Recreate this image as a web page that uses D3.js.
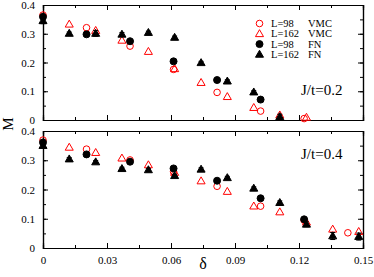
<!DOCTYPE html>
<html>
<head>
<meta charset="utf-8">
<script src="https://cdn.jsdelivr.net/npm/d3@7"></script>
<style>
  body { margin: 0; background: #fff; }
  svg { display: block; font-family: "Liberation Serif", "DejaVu Serif", serif; }
</style>
</head>
<body>
<div id="chart"></div>
<script>
// J/t = 0.2 (upper panel)
const topVmc98D = [0, 0.0204, 0.0408, 0.0612, 0.0816, 0.102, 0.1224];
const topVmc98M = [0.365, 0.321, 0.257, 0.176, 0.096, 0.031, 0.005];
const topVmc162D = [0.0123, 0.0247, 0.037, 0.0494, 0.0617, 0.0741, 0.0864, 0.0988, 0.111, 0.1235];
const topVmc162M = [0.333, 0.311, 0.277, 0.238, 0.178, 0.13, 0.081, 0.043, 0.017, 0.009];
const topFn98D = [0, 0.0204, 0.0408, 0.0612, 0.0816, 0.102];
const topFn98M = [0.359, 0.298, 0.274, 0.204, 0.139, 0.071];
const topFn162D = [0, 0.0123, 0.0247, 0.037, 0.0494, 0.0617, 0.0741, 0.0864, 0.0988, 0.111];
const topFn162M = [0.345, 0.301, 0.301, 0.298, 0.304, 0.287, 0.199, 0.135, 0.097, 0.011];
const topFn162E = [0.01, 0.005, 0.01, 0.006, 0.005, 0.005, 0.005, 0.005, 0.005, 0.009];

// J/t = 0.4 (lower panel)
const botVmc98D = [0, 0.0204, 0.0408, 0.0612, 0.0816, 0.102, 0.1224, 0.1429];
const botVmc98M = [0.369, 0.338, 0.301, 0.261, 0.211, 0.143, 0.095, 0.052];
const botVmc162D = [0.0123, 0.0247, 0.037, 0.0494, 0.0617, 0.0741, 0.0864, 0.0988, 0.111, 0.1235, 0.1358, 0.148];
const botVmc162M = [0.344, 0.326, 0.307, 0.284, 0.258, 0.229, 0.193, 0.143, 0.123, 0.088, 0.064, 0.056];
const botFn98D = [0, 0.0204, 0.0408, 0.0612, 0.0816, 0.102, 0.1224];
const botFn98M = [0.361, 0.32, 0.295, 0.272, 0.23, 0.17, 0.098];
const botFn162D = [0, 0.0123, 0.0247, 0.037, 0.0494, 0.0617, 0.0741, 0.0864, 0.0988, 0.111, 0.1235, 0.1358, 0.148];
const botFn162M = [0.35, 0.304, 0.294, 0.271, 0.267, 0.247, 0.269, 0.24, 0.204, 0.155, 0.081, 0.041, 0.039];
const botFn162E = [0.008, 0.005, 0.005, 0.005, 0.005, 0.005, 0.005, 0.005, 0.005, 0.006, 0.008, 0.012, 0.012];

const xTicks = [0, 0.03, 0.06, 0.09, 0.12, 0.15];
const xTickLabels = ["0", "0.03", "0.06", "0.09", "0.12", "0.15"];
const yTicks = [0, 0.1, 0.2, 0.3, 0.4];
const yTickLabels = ["0", "0.1", "0.2", "0.3", "0.4"];
const legendLabels = ["L=98", "L=162", "L=98", "L=162"];
const legendMethods = ["VMC", "VMC", "FN", "FN"];

const W = 374, H = 277;
const X0 = 43, X1 = 363;

const svg = d3.select("#chart").append("svg")
  .attr("width", W).attr("height", H);

const x = d3.scaleLinear().domain([0, 0.15]).range([X0, X1]);

const zip = (ds, ms, es) => ds.map((d, i) => ({ d, m: ms[i], e: es ? es[i] : 0 }));

const triPath = d3.symbol().type(d3.symbolTriangle).size(28);

function panel(y0, y1, series, label, showX) {
  const y = d3.scaleLinear().domain([0, 0.4]).range([y1, y0]);
  const g = svg.append("g");

  // Axes on all four sides, ticks inward
  const minorX = d3.range(0, 0.1501, 0.015);
  const minorY = d3.range(0, 0.401, 0.05);

  g.append("g").attr("transform", `translate(0,${y1})`)
    .call(d3.axisBottom(x).tickValues(minorX).tickSize(-3).tickFormat(""));
  g.append("g").attr("transform", `translate(0,${y1})`)
    .call(d3.axisBottom(x).tickValues(xTicks).tickSize(-5).tickPadding(8)
      .tickFormat((d, i) => showX ? xTickLabels[i] : ""));
  g.append("g").attr("transform", `translate(0,${y0})`)
    .call(d3.axisTop(x).tickValues(minorX).tickSize(-3).tickFormat(""));
  g.append("g").attr("transform", `translate(0,${y0})`)
    .call(d3.axisTop(x).tickValues(xTicks).tickSize(-5).tickFormat(""));

  g.append("g").attr("transform", `translate(${X0},0)`)
    .call(d3.axisLeft(y).tickValues(minorY).tickSize(-3).tickFormat(""));
  g.append("g").attr("transform", `translate(${X0},0)`)
    .call(d3.axisLeft(y).tickValues(yTicks).tickSize(-5).tickPadding(8)
      .tickFormat((d, i) => yTickLabels[i]));
  g.append("g").attr("transform", `translate(${X1},0)`)
    .call(d3.axisRight(y).tickValues(minorY).tickSize(-3).tickFormat(""));
  g.append("g").attr("transform", `translate(${X1},0)`)
    .call(d3.axisRight(y).tickValues(yTicks).tickSize(-5).tickFormat(""));

  g.selectAll(".domain").attr("stroke", "#000").attr("stroke-width", 1.2);
  g.selectAll(".tick line").attr("stroke", "#000");
  g.selectAll(".tick text")
    .attr("font-family", "Liberation Serif, serif")
    .attr("font-size", 11).attr("fill", "#000");

  // Series: VMC first, FN drawn over it
  series.forEach(s => {
    const pts = g.append("g");
    if (s.err) {
      pts.selectAll("line.err").data(s.data).join("line")
        .attr("x1", p => x(p.d)).attr("x2", p => x(p.d))
        .attr("y1", p => y(p.m - p.e)).attr("y2", p => y(p.m + p.e))
        .attr("stroke", "#000").attr("stroke-width", 1);
      pts.selectAll("line.cap").data(s.data).join("g").each(function(p) {
        [p.m - p.e, p.m + p.e].forEach(v => {
          d3.select(this).append("line")
            .attr("x1", x(p.d) - 2.5).attr("x2", x(p.d) + 2.5)
            .attr("y1", y(v)).attr("y2", y(v))
            .attr("stroke", "#000").attr("stroke-width", 1);
        });
      });
    }
    drawMarks(pts, s.data.map(p => [x(p.d), y(p.m)]), s.shape, s.filled);
  });

  g.append("text")
    .attr("x", 301).attr("y", y0 + (label === "J/t=0.2" ? 90 : 28))
    .attr("font-size", 15).attr("fill", "#000")
    .text(label);
  return y;
}

function drawMarks(sel, coords, shape, filled) {
  const color = filled ? "#000" : "#ff0000";
  if (shape === "circle") {
    sel.selectAll("circle").data(coords).join("circle")
      .attr("cx", c => c[0]).attr("cy", c => c[1])
      .attr("r", filled ? 3.5 : 3.3)
      .attr("fill", filled ? "#000" : "none")
      .attr("stroke", color).attr("stroke-width", 1);
  } else {
    sel.selectAll("path").data(coords).join("path")
      .attr("transform", c => `translate(${c[0]},${c[1] + 0.5})`)
      .attr("d", triPath)
      .attr("fill", filled ? "#000" : "none")
      .attr("stroke", color).attr("stroke-width", 1);
  }
}

panel(5, 120, [
  { data: zip(topVmc98D, topVmc98M), shape: "circle", filled: false },
  { data: zip(topVmc162D, topVmc162M), shape: "triangle", filled: false },
  { data: zip(topFn98D, topFn98M), shape: "circle", filled: true },
  { data: zip(topFn162D, topFn162M, topFn162E), shape: "triangle", filled: true, err: true }
], "J/t=0.2", false);

panel(131, 248, [
  { data: zip(botVmc98D, botVmc98M), shape: "circle", filled: false },
  { data: zip(botVmc162D, botVmc162M), shape: "triangle", filled: false },
  { data: zip(botFn98D, botFn98M), shape: "circle", filled: true },
  { data: zip(botFn162D, botFn162M, botFn162E), shape: "triangle", filled: true, err: true }
], "J/t=0.4", true);

// Legend
const legShapes = [["circle", false], ["triangle", false], ["circle", true], ["triangle", true]];
const leg = svg.append("g");
legShapes.forEach((s, i) => {
  const ly = 23.5 + i * 10.3;
  drawMarks(leg.append("g"), [[259.5, ly]], s[0], s[1]);
  leg.append("text").attr("x", 271).attr("y", ly + 3.5)
    .attr("font-size", 10.5).text(legendLabels[i]);
  leg.append("text").attr("x", 308).attr("y", ly + 3.5)
    .attr("font-size", 10.5).text(legendMethods[i]);
});

// Axis titles
svg.append("text")
  .attr("transform", "translate(13,124) rotate(-90)")
  .attr("text-anchor", "middle")
  .attr("font-size", 15).text("M");
svg.append("text")
  .attr("x", 203).attr("y", 269)
  .attr("text-anchor", "middle")
  .attr("font-size", 16).text("δ");
</script>
</body>
</html>
